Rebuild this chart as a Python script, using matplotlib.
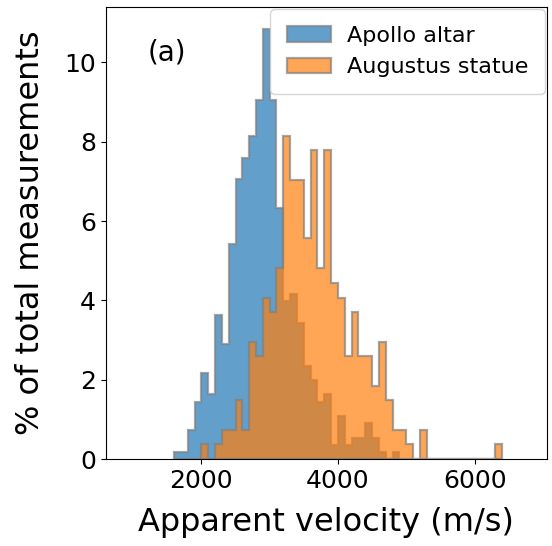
import numpy as np
import matplotlib
matplotlib.use('Agg')
import matplotlib.pyplot as plt

# bin edges (100 m/s bins) and heights in % of total measurements
apollo_left = np.arange(1600, 4900, 100)
apollo_pct = [0.18, 0.18, 0.72, 1.45, 2.17, 1.63, 3.62, 2.89, 5.42, 7.05,
              7.59, 8.14, 9.04, 10.85, 9.04, 6.33, 3.98, 4.16, 3.44, 2.35,
              1.99, 1.45, 1.63, 0.36, 1.08, 0.36, 0.54, 0.54, 0.90, 0.54,
              0.18, 0.0, 0.18]

augustus_left = np.arange(2000, 6400, 100)
augustus_pct = [0.37, 0.0, 0.37, 0.74, 0.74, 1.48, 0.74, 2.96, 2.59, 4.07,
                3.70, 4.81, 8.15, 7.04, 7.04, 5.56, 7.78, 4.81, 7.78, 4.44,
                4.07, 2.59, 3.70, 2.59, 2.59, 1.85, 2.96, 1.48, 0.74, 0.74,
                0.37, 0.0, 0.74, 0.0, 0.0, 0.0, 0.0, 0.0, 0.0, 0.0,
                0.0, 0.0, 0.0, 0.37]

labels = ['Apollo altar', 'Augustus statue']

fig = plt.figure(figsize=(5.52, 5.46), dpi=100)
ax = fig.add_axes([0.1915, 0.1593, 0.7995, 0.8277])

ax.hist(apollo_left, bins=np.append(apollo_left, apollo_left[-1] + 100),
        weights=apollo_pct, histtype='stepfilled', alpha=0.7,
        color='#1f77b4', ec='gray', lw=1.6, label=labels[0])
ax.hist(augustus_left, bins=np.append(augustus_left, augustus_left[-1] + 100),
        weights=augustus_pct, histtype='stepfilled', alpha=0.7,
        color='#ff7f0e', ec='gray', lw=1.6, label=labels[1])

ax.set_xlim(600, 7060)
ax.set_xticks([2000, 4000, 6000])
ax.set_yticks([0, 2, 4, 6, 8, 10])
ax.tick_params(labelsize=18)
ax.set_xlabel('Apparent velocity (m/s)', fontsize=23, labelpad=10)
ax.set_ylabel('% of total measurements', fontsize=23, labelpad=13)
ax.text(0.096, 0.90, '(a)', transform=ax.transAxes, fontsize=20, va='center')
ax.legend(loc='upper right', fontsize=16, borderaxespad=0.1, borderpad=0.75,
          handletextpad=0.7)

fig.savefig('out.png', dpi=100)
